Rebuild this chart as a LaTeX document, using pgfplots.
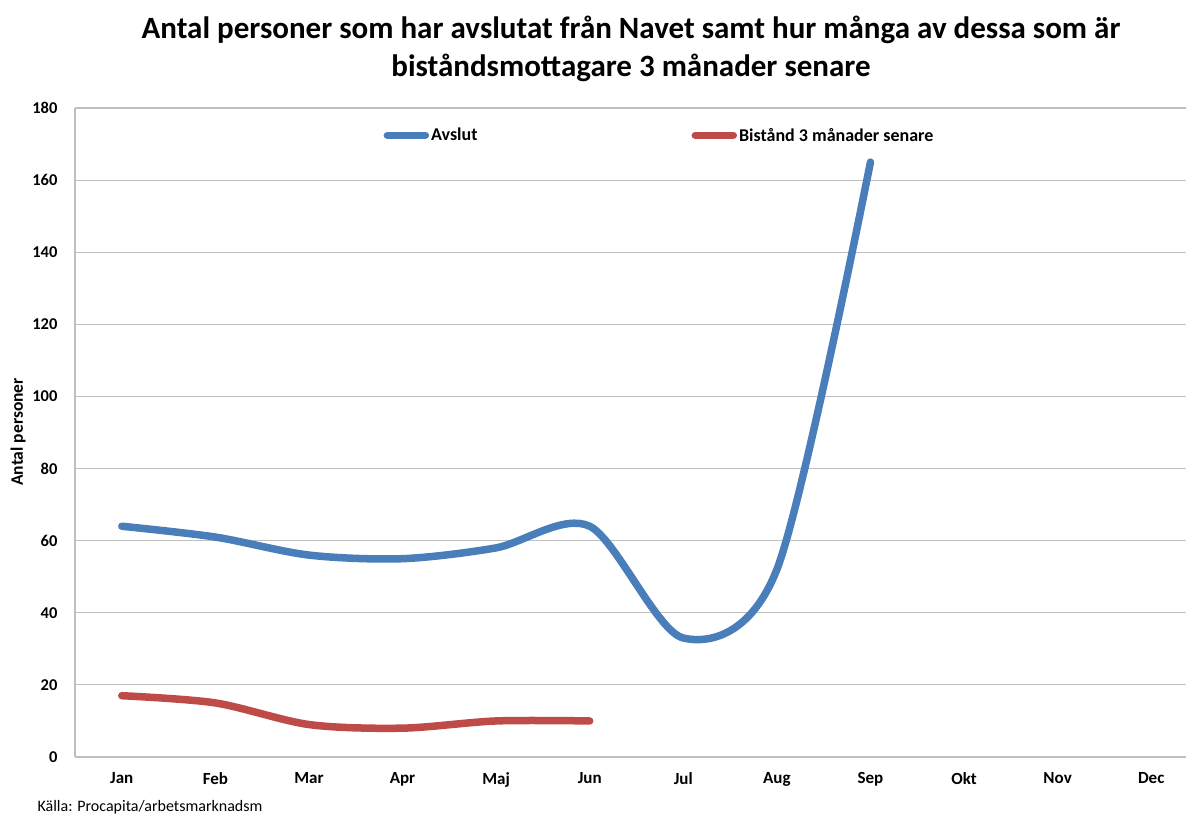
\documentclass[border=0pt]{standalone}
\usepackage{pgfplots}
\pgfplotsset{compat=1.18}
\usepackage{fontspec}
\setmainfont{Carlito}
\definecolor{exblue}{HTML}{4A7EBB}
\definecolor{exred}{HTML}{BE4B48}
\definecolor{gridgray}{HTML}{BFBFBF}
\begin{document}
\begin{tikzpicture}
\path[use as bounding box] (0pt,0pt) rectangle (1186pt,816pt);
\node[font=\fontsize{31}{38}\selectfont\bfseries, align=center] at (631pt,767pt)
  {Antal personer som har avslutat från Navet samt hur många av dessa som är\\biståndsmottagare 3 månader senare};
\node[font=\fontsize{16}{19}\selectfont, anchor=base west] at (34pt,4.5pt) {Källa: Procapita/arbetsmarknadsm};
\node[font=\fontsize{17.5}{20}\selectfont\bfseries, rotate=90] at (18pt,384pt) {Antal personer};
\begin{axis}[
  at={(75pt,59pt)}, anchor=south west,
  scale only axis, width=1123pt, height=649pt,
  xmin=-0.5, xmax=11.5, ymin=0, ymax=180,
  xtick={0,...,11},
  xticklabels={Jan,Feb,Mar,Apr,Maj,Jun,Jul,Aug,Sep,Okt,Nov,Dec},
  ytick={0,20,...,180},
  ymajorgrids, grid style={gridgray, line width=1.2pt},
  major tick length=0pt,
  axis x line*=bottom, axis y line*=left,
  axis line style={gridgray, line width=1.5pt, -},
  separate axis lines,
  /pgf/number format/assume math mode=true,
  ticklabel style={font=\fontsize{16.5}{19}\selectfont\bfseries},
  xticklabel style={font=\fontsize{17}{19}\selectfont\bfseries, yshift=-12pt},
  yticklabel style={xshift=-14pt},
  legend columns=2,
  legend style={draw=none, fill=none, at={(0.5205,0.958)}, anchor=center,
    font=\fontsize{18}{21}\selectfont\bfseries, inner xsep=0pt,
    /tikz/every even column/.append style={column sep=212pt}},
  legend image code/.code={\draw[#1, line cap=round] (0pt,0pt) -- (38pt,0pt);},
  clip=false,
]
\addplot[exblue, line width=7.5pt, line cap=round, smooth, tension=0.5] coordinates {
  (0,64) (1,61) (2,56) (3,55) (4,58) (5,64) (6,33) (7,52) (8,165)
};
\addlegendentry{Avslut}
\addplot[exred, line width=7.5pt, line cap=round, smooth, tension=0.5] coordinates {
  (0,17) (1,15) (2,9) (3,8) (4,10) (5,10)
};
\addlegendentry{Bistånd 3 månader senare}
\end{axis}
\end{tikzpicture}
\end{document}
